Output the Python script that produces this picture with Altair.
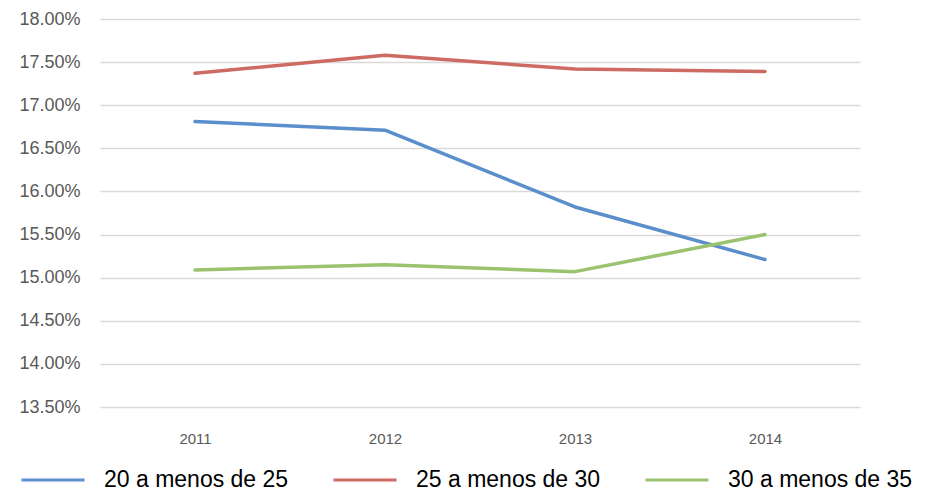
import altair as alt
import pandas as pd

years = ["2011", "2012", "2013", "2014"]
s20 = [0.1681, 0.1671, 0.1582, 0.1521]
s25 = [0.1737, 0.1758, 0.1742, 0.1739]
s30 = [0.1509, 0.1515, 0.1507, 0.1550]
series = ["20 a menos de 25", "25 a menos de 30", "30 a menos de 35"]
colors = ["#5B8FCB", "#CC6A63", "#9BC26E"]
y_ticks = [0.135, 0.14, 0.145, 0.15, 0.155, 0.16, 0.165, 0.17, 0.175, 0.18]

rows = []
for name, vals in zip(series, [s20, s25, s30]):
    for yr, v in zip(years, vals):
        rows.append({"year": yr, "value": v, "series": name})
df = pd.DataFrame(rows)

chart = alt.Chart(df).mark_line(strokeWidth=3.5, strokeCap="round", strokeJoin="round").encode(
    x=alt.X("year:N", sort=years, title=None,
            scale=alt.Scale(type="point", padding=0.5),
            axis=alt.Axis(domain=False, ticks=False, labelAngle=0, labelPadding=24,
                          labelFontSize=15, labelColor="#595959", labelFont="Liberation Sans",
                          grid=False)),
    y=alt.Y("value:Q", title=None,
            scale=alt.Scale(domain=[0.135, 0.18], nice=False, zero=False),
            axis=alt.Axis(values=y_ticks, format=".2%", domain=False, ticks=False,
                          labelPadding=20, labelFontSize=18, labelColor="#595959",
                          labelFont="Liberation Sans", gridColor="#D9D9D9", gridWidth=1.5)),
    color=alt.Color("series:N", sort=series,
                    scale=alt.Scale(domain=series, range=colors),
                    legend=alt.Legend(title=None, orient="none", direction="horizontal",
                                      legendX=-80, legendY=428,
                                      symbolType="stroke", symbolSize=3969,
                                      symbolStrokeWidth=3, labelFontSize=23,
                                      labelFont="Liberation Sans", labelColor="#000000",
                                      labelLimit=0, labelOffset=18, columnPadding=38)),
).properties(
    width=760, height=388,
    autosize=alt.AutoSizeParams(type="none"),
    padding={"left": 92, "top": 11, "right": 62, "bottom": 87},
).configure_view(stroke=None)

chart.save("out.html", embed_options={"renderer": "svg", "actions": False})
